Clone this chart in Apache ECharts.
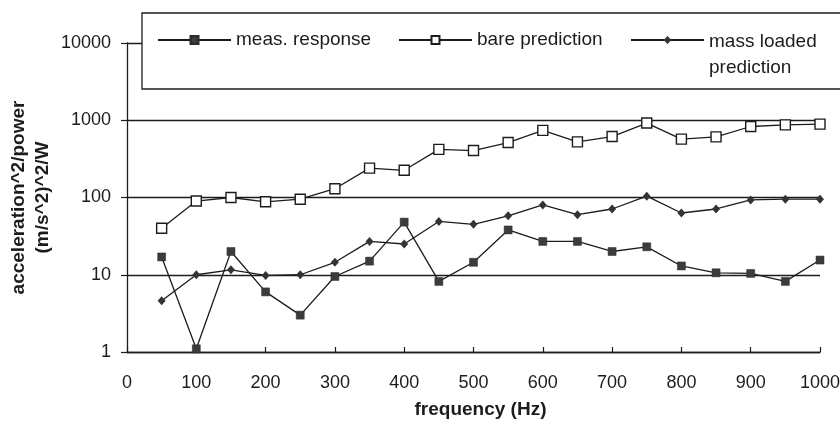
<!DOCTYPE html>
<html>
<head>
<meta charset="utf-8">
<script src="https://cdn.jsdelivr.net/npm/echarts@6/dist/echarts.min.js"></script>
<style>html,body{margin:0;padding:0;background:#fff;}#c{width:840px;height:430px;}</style>
</head>
<body>
<div id="c"></div>
<script>
const freq = [50,100,150,200,250,300,350,400,450,500,550,600,650,700,750,800,850,900,950,1000];
const measResponse = [17,1.1,20,6.0,3.0,9.5,15,48,8.2,14.5,38,27,27,20,23,13,10.6,10.4,8.2,15.5];
const barePrediction = [40,90,100,88,95,130,240,225,420,405,515,740,525,615,920,570,610,830,870,890];
const massLoadedPrediction = [4.6,10,11.6,9.8,10,14.5,27,25,49,45,58,80,60,71,104,63,71,93,95,95];
const xTickLabels = ['0','100','200','300','400','500','600','700','800','900','1000'];
const yTickLabels = ['1','10','100','1000','10000'];
const seriesNames = ['meas. response','bare prediction','mass loaded\nprediction'];

const FONT = "'Liberation Sans', Arial, sans-serif";
const INK = '#1c1c1c';

const chart = echarts.init(document.getElementById('c'), null, {renderer:'canvas'});
chart.setOption({
  animation: false,
  backgroundColor: '#fff',
  grid: {left: 127, right: 20, top: 43, bottom: 78, outerBoundsMode: 'none'},
  legend: {
    left: 142, top: 13, width: 760, orient: 'horizontal',
    padding: [-14, 40, 8, 15],
    backgroundColor: '#fff', borderColor: INK, borderWidth: 1.3,
    itemWidth: 73, itemHeight: 10, itemGap: 15,
    textStyle: {fontSize: 19, color: INK, fontFamily: FONT, lineHeight: 26,
      rich: {g: {fontSize: 19, lineHeight: 30}}},
    formatter: n => n.indexOf('\n') >= 0 ? '{g| }\n' + n : n,
    data: [
      {name: seriesNames[0], textStyle: {width: 147}},
      {name: seriesNames[1], textStyle: {width: 138}},
      {name: seriesNames[2]}
    ]
  },
  xAxis: {
    type: 'value', min: 0, max: 1000, interval: 100,
    name: 'frequency (Hz)', nameLocation: 'middle', nameGap: 48, nameMoveOverlap: false,
    nameTextStyle: {fontSize: 19, fontWeight: 'bold', color: INK, fontFamily: FONT, padding: [0,0,0,14]},
    axisLine: {show: true, lineStyle: {color: INK, width: 1.3}},
    axisTick: {show: true, inside: true, length: 5, lineStyle: {color: INK, width: 1.2}},
    splitLine: {show: false},
    axisLabel: {fontSize: 18, color: INK, fontFamily: FONT, margin: 22,
      formatter: v => xTickLabels[Math.round(v / 100)]}
  },
  yAxis: {
    type: 'log', logBase: 10, min: 1, max: 10000,
    name: 'acceleration^2/power\n(m/s^2)^2/W', nameLocation: 'middle', nameGap: 72, nameRotate: 90,
    nameMoveOverlap: false,
    nameTextStyle: {fontSize: 19, fontWeight: 'bold', color: INK, fontFamily: FONT, lineHeight: 24},
    axisLine: {show: true, lineStyle: {color: INK, width: 1.3}},
    axisTick: {show: true, inside: false, length: 6, lineStyle: {color: INK, width: 1.2}},
    minorTick: {show: false},
    splitLine: {show: true, lineStyle: {color: INK, width: 1.3}},
    axisLabel: {fontSize: 18, color: INK, fontFamily: FONT, margin: 16,
      formatter: v => yTickLabels[Math.round(Math.log10(v))]}
  },
  series: [
    {
      type: 'line', name: seriesNames[0],
      data: freq.map((f, i) => [f, measResponse[i]]),
      symbol: 'rect', symbolSize: 8,
      lineStyle: {color: INK, width: 1.3},
      itemStyle: {color: '#3c3c3c', borderColor: '#2a2a2a', borderWidth: 0.5},
      z: 4
    },
    {
      type: 'line', name: seriesNames[1],
      data: freq.map((f, i) => [f, barePrediction[i]]),
      symbol: 'rect', symbolSize: 10,
      lineStyle: {color: INK, width: 1.3},
      itemStyle: {color: '#fff', borderColor: INK, borderWidth: 1.4},
      z: 3
    },
    {
      type: 'line', name: seriesNames[2],
      data: freq.map((f, i) => [f, massLoadedPrediction[i]]),
      symbol: 'diamond', symbolSize: [8, 9],
      lineStyle: {color: INK, width: 1.3},
      itemStyle: {color: '#333'},
      z: 3
    }
  ]
});
</script>
</body>
</html>
